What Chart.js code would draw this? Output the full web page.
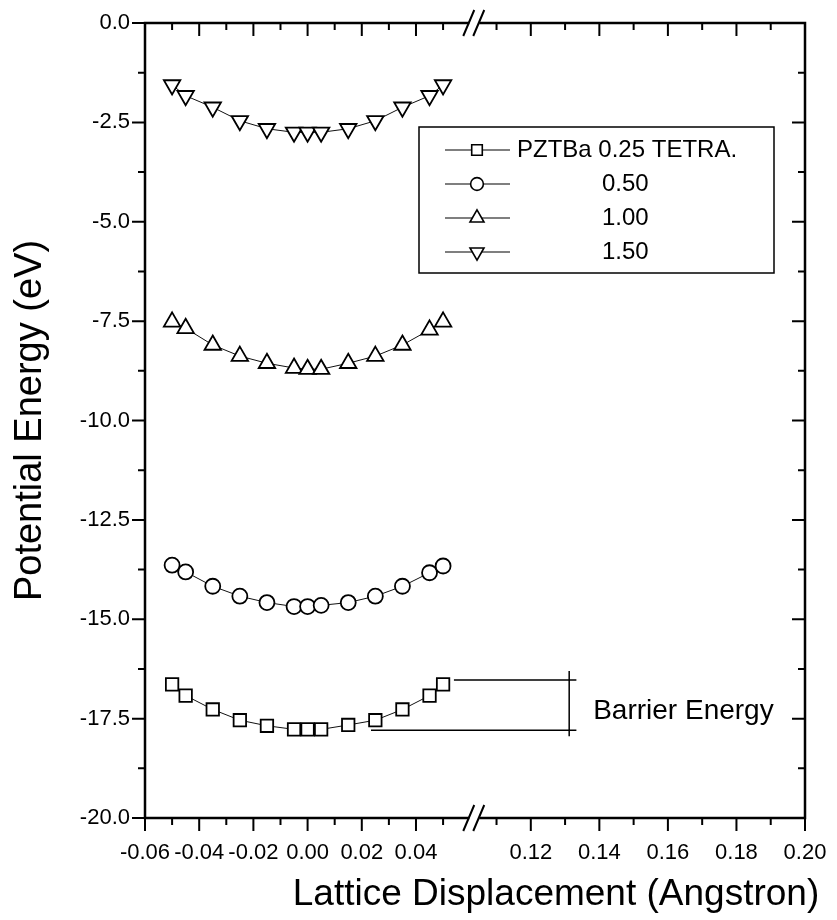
<!DOCTYPE html>
<html>
<head>
<meta charset="utf-8">
<title>Potential Energy vs Lattice Displacement</title>
<script src="https://cdn.jsdelivr.net/npm/chart.js@4.4.1/dist/chart.umd.min.js"></script>
<style>
  html, body { margin: 0; padding: 0; background: #fff; }
  #wrap { width: 837px; height: 920px; }
</style>
</head>
<body>
<div id="wrap"><canvas id="energyChart" width="837" height="920"></canvas></div>
<script>
// displacement (Angstrom), same for all four series
const displacement = [-0.05, -0.045, -0.035, -0.025, -0.015, -0.005, 0, 0.005, 0.015, 0.025, 0.035, 0.045, 0.05];

// potential energy (eV)
const ba025 = [-16.64, -16.92, -17.27, -17.54, -17.68, -17.77, -17.77, -17.77, -17.66, -17.54, -17.27, -16.92, -16.64];
const ba050 = [-13.64, -13.81, -14.17, -14.42, -14.58, -14.68, -14.68, -14.65, -14.58, -14.42, -14.17, -13.83, -13.66];
const ba100 = [-7.52, -7.68, -8.10, -8.38, -8.56, -8.68, -8.71, -8.71, -8.56, -8.38, -8.10, -7.72, -7.52];
const ba150 = [-1.56, -1.83, -2.12, -2.46, -2.66, -2.75, -2.75, -2.75, -2.66, -2.46, -2.12, -1.83, -1.56];

const seriesLabels = ["PZTBa 0.25 TETRA.", "0.50", "1.00", "1.50"];

// axis ticks (broken x axis: left and right parts)
const xTicksLeft = [-0.06, -0.04, -0.02, 0.00, 0.02, 0.04];
const xMinorLeft = [-0.05, -0.03, -0.01, 0.01, 0.03, 0.05];
const xTicksRight = [0.12, 0.14, 0.16, 0.18, 0.20];
const xMinorRight = [0.11, 0.13, 0.15, 0.17, 0.19];
const yTicks = [0, -2.5, -5, -7.5, -10, -12.5, -15, -17.5, -20];
const yMinor = [-1.25, -3.75, -6.25, -8.75, -11.25, -13.75, -16.25, -18.75];

// barrier energy bracket
const barrierTop = -16.53;
const barrierBottom = -17.79;
const barrierTopStart = 0.054;     // on left part
const barrierBottomStart = 0.0234; // on left part
const barrierEnd = 0.1333;         // on right part
const barrierBar = 0.1312;
const barrierLabelX = 0.1382;
const barrierLabelY = -17.32;

const FONT = "'Liberation Sans', Arial, Helvetica, sans-serif";

function toPoints(ys) {
  return ys.map((y, i) => ({ x: displacement[i], y: y }));
}

function setTicks(values) {
  return function (axis) {
    axis.ticks = values.map(v => ({ value: v }));
  };
}

const markerOpts = [
  { pointStyle: "rect", pointRadius: 8.8, rotation: 0 },
  { pointStyle: "circle", pointRadius: 7.5, rotation: 0 },
  { pointStyle: "triangle", pointRadius: 9.5, rotation: 0 },
  { pointStyle: "triangle", pointRadius: 9.5, rotation: 180 }
];

const datasets = [ba025, ba050, ba100, ba150].map((ys, i) => ({
  label: seriesLabels[i],
  data: toPoints(ys),
  xAxisID: "xL",
  yAxisID: "y",
  borderColor: "#111",
  borderWidth: 1,
  pointStyle: markerOpts[i].pointStyle,
  pointRadius: markerOpts[i].pointRadius,
  pointRotation: markerOpts[i].rotation,
  pointBackgroundColor: "#fff",
  pointBorderColor: "#000",
  pointBorderWidth: 1.8,
  tension: 0
}));

// frame, tick marks, axis break, bracket, legend and x title
const decorations = {
  id: "decorations",
  afterDraw(chart) {
    const ctx = chart.ctx;
    const a = chart.chartArea;
    const xL = chart.scales.xL, xR = chart.scales.xR, y = chart.scales.y;
    ctx.save();
    ctx.strokeStyle = "#000";
    ctx.lineCap = "butt";

    // frame
    ctx.lineWidth = 2.5;
    ctx.strokeRect(a.left, a.top, a.right - a.left, a.bottom - a.top);

    // tick marks
    ctx.lineWidth = 2;
    function xTick(scale, v, len) {
      const px = scale.getPixelForValue(v);
      ctx.beginPath();
      ctx.moveTo(px, a.bottom); ctx.lineTo(px, a.bottom + len);
      ctx.moveTo(px, a.top); ctx.lineTo(px, a.top + len);
      ctx.stroke();
    }
    xTicksLeft.forEach(v => xTick(xL, v, 13));
    xMinorLeft.forEach(v => xTick(xL, v, 7));
    xTicksRight.forEach(v => xTick(xR, v, 13));
    xMinorRight.forEach(v => xTick(xR, v, 7));
    function yTick(v, len) {
      const py = y.getPixelForValue(v);
      ctx.beginPath();
      ctx.moveTo(a.left, py); ctx.lineTo(a.left - len, py);
      ctx.moveTo(a.right, py); ctx.lineTo(a.right - len, py);
      ctx.stroke();
    }
    yTicks.forEach(v => yTick(v, 13));
    yMinor.forEach(v => yTick(v, 7));

    // axis break marks
    const jx = xL.right;
    [a.top, a.bottom].forEach(ay => {
      ctx.fillStyle = "#fff";
      ctx.fillRect(jx - 5, ay - 3, 10, 6);
      ctx.lineWidth = 2;
      ctx.beginPath();
      ctx.moveTo(jx - 11, ay + 13); ctx.lineTo(jx - 0, ay - 13);
      ctx.moveTo(jx - 1, ay + 13); ctx.lineTo(jx + 10, ay - 13);
      ctx.stroke();
    });

    // barrier energy bracket
    ctx.lineWidth = 1.5;
    const yt = y.getPixelForValue(barrierTop);
    const yb = y.getPixelForValue(barrierBottom);
    const xe = xR.getPixelForValue(barrierEnd);
    const xv = xR.getPixelForValue(barrierBar);
    ctx.beginPath();
    ctx.moveTo(xL.getPixelForValue(barrierTopStart), yt); ctx.lineTo(xe, yt);
    ctx.moveTo(xL.getPixelForValue(barrierBottomStart), yb); ctx.lineTo(xe, yb);
    ctx.moveTo(xv, yt - 9); ctx.lineTo(xv, yb + 6);
    ctx.stroke();
    ctx.fillStyle = "#000";
    ctx.font = "28px " + FONT;
    ctx.textAlign = "left";
    ctx.textBaseline = "middle";
    ctx.fillText("Barrier Energy", xR.getPixelForValue(barrierLabelX), y.getPixelForValue(barrierLabelY));

    // legend
    ctx.lineWidth = 1.5;
    ctx.strokeRect(419, 127, 355, 146);
    chart.data.datasets.forEach((ds, i) => {
      const ly = 150 + i * 34;
      ctx.strokeStyle = "#000";
      ctx.lineWidth = 1.2;
      ctx.beginPath();
      ctx.moveTo(445, ly); ctx.lineTo(510, ly);
      ctx.stroke();
      ctx.fillStyle = "#fff";
      ctx.lineWidth = 1.6;
      Chart.helpers.drawPoint(ctx, {
        pointStyle: ds.pointStyle,
        rotation: ds.pointRotation,
        radius: ds.pointRadius * 0.85,
        borderWidth: 1.6
      }, 477, ly);
      ctx.fillStyle = "#000";
      ctx.font = "24px " + FONT;
      ctx.textBaseline = "middle";
      ctx.fillText(ds.label, i === 0 ? 517 : 602, ly);
    });

    // x axis title
    ctx.font = "37px " + FONT;
    ctx.textAlign = "center";
    ctx.textBaseline = "middle";
    ctx.fillText("Lattice Displacement (Angstron)", 556, 895);
    ctx.restore();
  }
};

const xCommon = {
  type: "linear",
  position: "bottom",
  stack: "x",
  grid: { display: false, drawTicks: true, tickLength: 20 },
  border: { display: false },
  ticks: {
    autoSkip: false, maxRotation: 0, minRotation: 0, padding: 2,
    color: "#000", font: { family: FONT, size: 22 },
    callback: v => v.toFixed(2)
  },
  afterFit(scale) { scale.height = 102; }
};

new Chart(document.getElementById("energyChart"), {
  type: "line",
  data: { datasets: datasets },
  options: {
    responsive: false,
    animation: false,
    devicePixelRatio: 1,
    layout: { padding: { left: 8, top: 23, right: 32, bottom: 0 } },
    plugins: { legend: { display: false }, tooltip: { enabled: false } },
    scales: {
      xL: Object.assign({}, xCommon, {
        min: -0.06, max: 0.0615, stackWeight: 329,
        afterBuildTicks: setTicks(xTicksLeft)
      }),
      xR: Object.assign({}, xCommon, {
        min: 0.1035, max: 0.20, stackWeight: 330.5,
        afterBuildTicks: setTicks(xTicksRight)
      }),
      y: {
        type: "linear",
        position: "left",
        min: -20, max: 0,
        afterBuildTicks: setTicks(yTicks),
        afterFit(scale) { scale.width = 137; },
        grid: { display: false, drawTicks: true, tickLength: 13 },
        border: { display: false },
        ticks: {
          padding: 2, color: "#000", font: { family: FONT, size: 22 },
          callback: v => v.toFixed(1)
        },
        title: {
          display: true, text: "Potential Energy (eV)", color: "#000",
          font: { family: FONT, size: 38 }, padding: { top: 0, bottom: 0 }
        }
      }
    }
  },
  plugins: [decorations]
});
</script>
</body>
</html>
